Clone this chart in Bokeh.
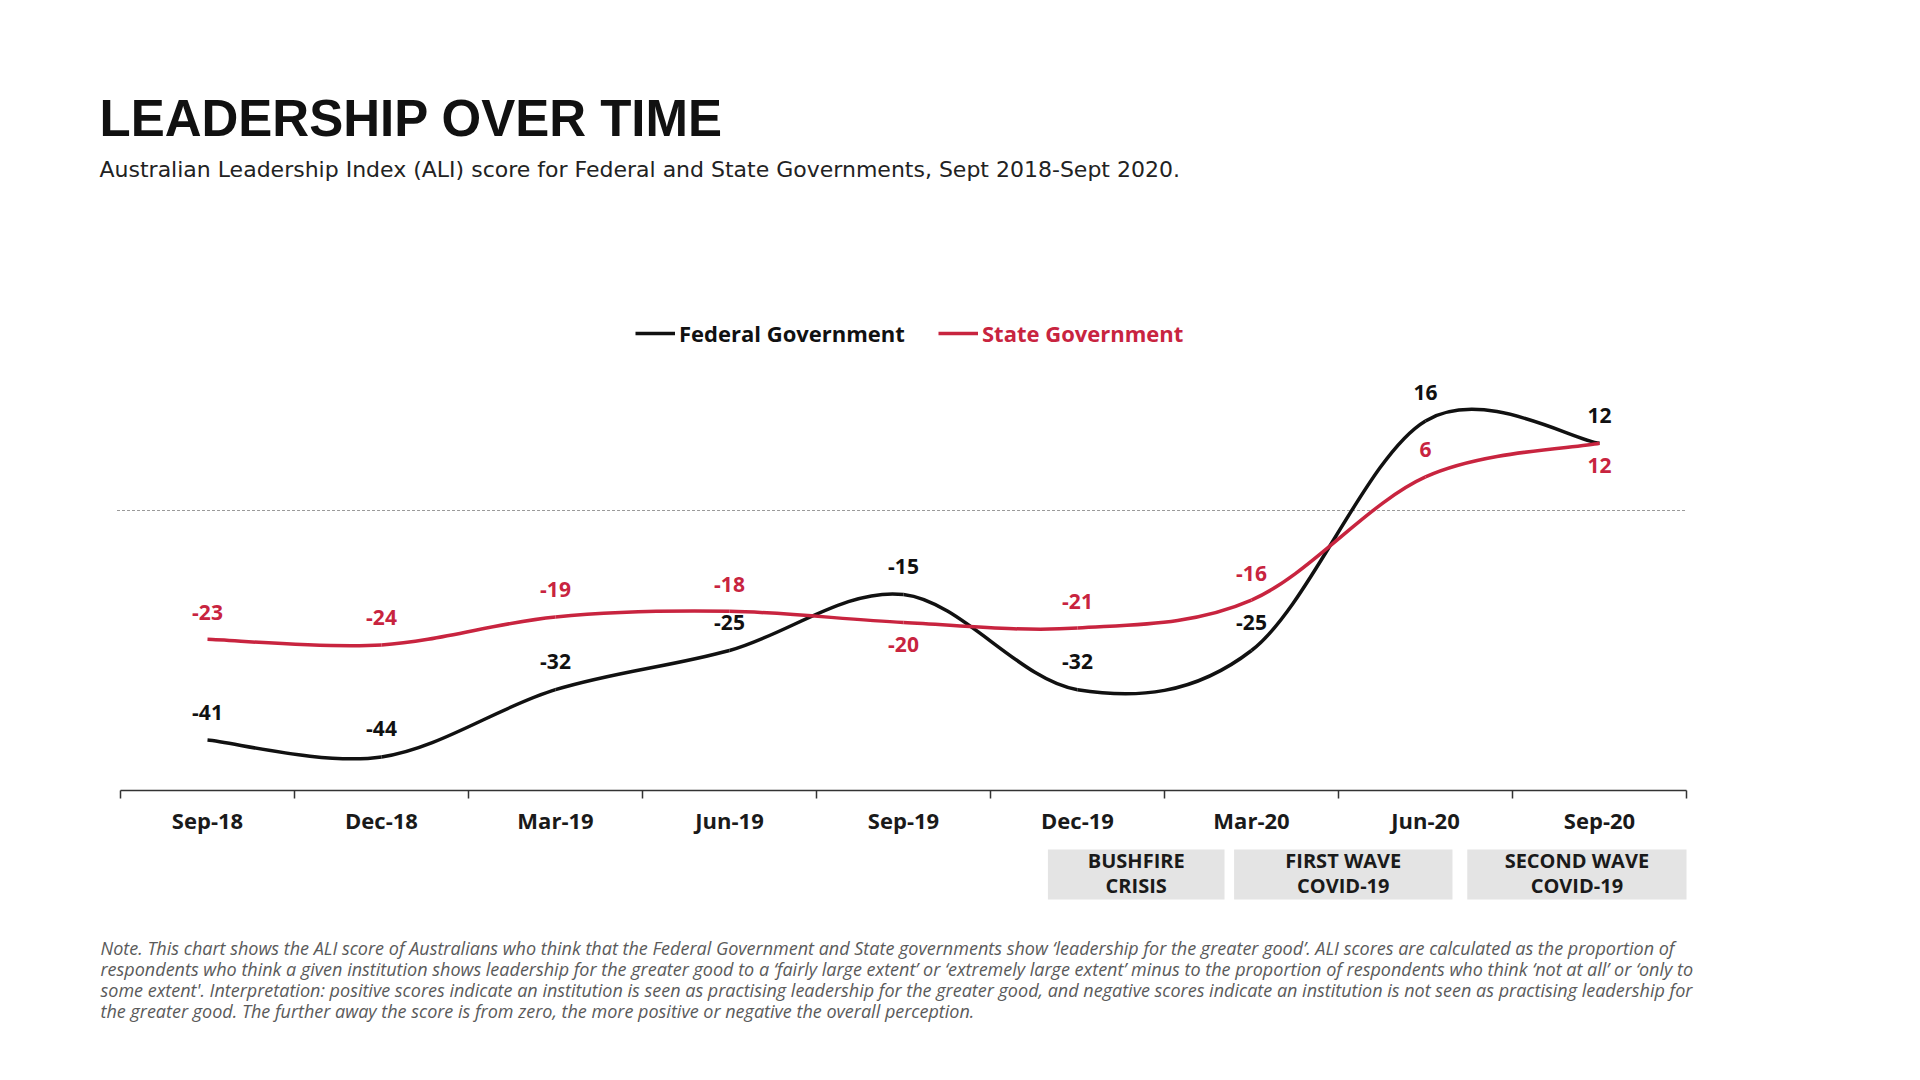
import numpy as np
from bokeh.core.properties import value
from bokeh.embed import file_html
from bokeh.layouts import column
from bokeh.models import FixedTicker, Label, Legend, LegendItem, Range1d
from bokeh.plotting import figure
from bokeh.resources import INLINE

# ---- data ----
quarters = ["Sep-18", "Dec-18", "Mar-19", "Jun-19", "Sep-19",
            "Dec-19", "Mar-20", "Jun-20", "Sep-20"]
federal = [-41, -44, -32, -25, -15, -32, -25, 16, 12]
state = [-23, -24, -19, -18, -20, -21, -16, 6, 12]

events = ["BUSHFIRE\nCRISIS", "FIRST WAVE\nCOVID-19", "SECOND WAVE\nCOVID-19"]
# event spans, in quarter units along the x axis
event_start = [5.33, 6.40, 7.74]
event_end = [6.345, 7.655, 9.0]

note_lines = [
    "Note. This chart shows the ALI score of Australians who think that the Federal Government and State "
    "governments show \u2018leadership for the greater good\u2019. ALI scores are calculated as the proportion of",
    "respondents who think a given institution shows leadership for the greater good to a \u2018fairly large "
    "extent\u2019 or \u2018extremely large extent\u2019 minus to the proportion of respondents who think "
    "\u2018not at all\u2019 or \u2018only to",
    "some extent'. Interpretation: positive scores indicate an institution is seen as practising leadership "
    "for the greater good, and negative scores indicate an institution is not seen as practising leadership for",
    "the greater good. The further away the score is from zero, the more positive or negative the overall perception.",
]

BLACK = "#111111"
RED = "#C8243F"
GREY_TEXT = "#5a5a5a"
FONT = "Open Sans"

# page geometry (page pixels); the frames cover the whole width
PAGE_LEFT, PAGE_RIGHT = 8, 1912
AXIS_LEFT, UNIT = 128, 174.0           # page x of the axis start, px per quarter
AXIS_Y, PX_PER_POINT = 798, 5.6        # page y of the axis line, px per index point
SPLIT = 852                            # page y where the lower figure starts
Y_BOTTOM = -50


def smooth_segments(xs, ys):
    """Bezier control points for a spreadsheet-style smoothed line."""
    def controls(v):
        v = np.asarray(v, dtype=float)
        pad = np.concatenate([[v[0]], v, [v[-1]]])
        c0 = pad[1:-2] + (pad[2:-1] - pad[:-3]) / 6
        c1 = pad[2:-1] - (pad[3:] - pad[1:-2]) / 6
        return v[:-1], v[1:], c0, c1
    x0, x1, cx0, cx1 = controls(xs)
    y0, y1, cy0, cy1 = controls(ys)
    return dict(x0=x0, y0=y0, x1=x1, y1=y1, cx0=cx0, cy0=cy0, cx1=cx1, cy1=cy1)


n = len(quarters)
centers = np.arange(n) + 0.5

x_range = Range1d((PAGE_LEFT - AXIS_LEFT) / UNIT, (PAGE_RIGHT - AXIS_LEFT) / UNIT)
y_top = Y_BOTTOM + (AXIS_Y - PAGE_LEFT) / PX_PER_POINT

# ---- main chart ----
p = figure(width=PAGE_RIGHT - PAGE_LEFT, height=SPLIT - PAGE_LEFT, x_range=x_range,
           y_range=Range1d(Y_BOTTOM, y_top), output_backend="svg", toolbar_location=None,
           y_axis_location=None, min_border_left=0, min_border_right=0, min_border_top=0,
           min_border_bottom=SPLIT - AXIS_Y)
p.outline_line_color = None
p.grid.visible = False

p.segment(x0=-0.02, y0=0, x1=n, y1=0, line_color="#9a9a9a", line_width=1.2, line_dash="3 2")

fed_r = p.bezier(**smooth_segments(centers, federal), line_color=BLACK, line_width=3.5)
state_r = p.bezier(**smooth_segments(centers, state), line_color=RED, line_width=3.5)

p.text(x=centers, y=federal, text=[str(v) for v in federal], y_offset=-28,
       text_align="center", text_baseline="middle", text_color=BLACK,
       text_font=value(FONT), text_font_style="bold", text_font_size="21px")
state_offsets = [-27, -27, -27, -27, 22, -27, -27, -27, 22]
p.text(x=centers, y=state, text=[str(v) for v in state], y_offset=state_offsets,
       text_align="center", text_baseline="middle", text_color=RED,
       text_font=value(FONT), text_font_style="bold", text_font_size="21px")

ax = p.xaxis[0]
ax.bounds = (0, n)
ax.ticker = FixedTicker(ticks=list(centers), minor_ticks=list(range(n + 1)))
ax.major_label_overrides = {float(c): q for c, q in zip(centers, quarters)}
ax.axis_line_color = "#333333"
ax.axis_line_width = 1.5
ax.major_tick_out = 0
ax.major_tick_in = 0
ax.minor_tick_out = 8
ax.minor_tick_in = 0
ax.minor_tick_line_color = "#333333"
ax.minor_tick_line_width = 1.5
ax.major_label_standoff = 6
ax.major_label_text_font = FONT
ax.major_label_text_font_style = "bold"
ax.major_label_text_font_size = "22px"
ax.major_label_text_color = "#1a1a1a"

for renderer, name, color, x in [(fed_r, "Federal Government", BLACK, 635),
                                 (state_r, "State Government", RED, 938)]:
    legend = Legend(items=[LegendItem(label=name, renderers=[renderer])],
                    location=(x, AXIS_Y - 802 + 446), orientation="horizontal", padding=0,
                    margin=0, border_line_alpha=0, background_fill_alpha=0, glyph_width=40,
                    label_standoff=4, label_text_font=FONT, label_text_font_style="bold",
                    label_text_font_size="22px", label_text_color=color)
    p.add_layout(legend, "center")

# screen units here are measured from the frame's bottom-left corner
p.add_layout(Label(x=99, y=AXIS_Y - 126, x_units="screen", y_units="screen",
                   text="LEADERSHIP OVER TIME", text_font="Liberation Sans", text_font_style="bold",
                   text_font_size="51px", text_color=BLACK, text_baseline="alphabetic"))
p.add_layout(Label(x=99, y=AXIS_Y - 177, x_units="screen", y_units="screen",
                   text="Australian Leadership Index (ALI) score for Federal and State Governments, "
                        "Sept 2018-Sept 2020.",
                   text_font="DejaVu Sans", text_font_size="22px", text_color="#222222",
                   text_baseline="alphabetic"))

# ---- event boxes and note ----
PAGE_BOTTOM = 1072
q = figure(width=PAGE_RIGHT - PAGE_LEFT, height=PAGE_BOTTOM - SPLIT, x_range=x_range,
           y_range=Range1d(PAGE_BOTTOM, SPLIT), output_backend="svg", toolbar_location=None,
           x_axis_location=None, y_axis_location=None, min_border_left=0, min_border_right=0,
           min_border_top=0, min_border_bottom=0)
q.outline_line_color = None
q.grid.visible = False

q.quad(left=event_start, right=event_end, top=857, bottom=907,
       fill_color="#e4e4e4", line_color=None)
q.text(x=[(a + b) / 2 for a, b in zip(event_start, event_end)], y=880.5, text=events,
       text_align="center", text_baseline="middle", text_color="#1a1a1a",
       text_font=value(FONT), text_font_style="bold", text_font_size="20px",
       text_line_height=0.92)

for i, line in enumerate(note_lines):
    baseline = 955 + 21.2 * i
    q.add_layout(Label(x=100, y=PAGE_BOTTOM - baseline, x_units="screen", y_units="screen",
                       text=line, text_font=FONT, text_font_style="italic",
                       text_font_size="18px", text_color=GREY_TEXT, text_baseline="alphabetic"))

layout_ = column(p, q, spacing=0)
open("out.html", "w").write(file_html(layout_, INLINE))
